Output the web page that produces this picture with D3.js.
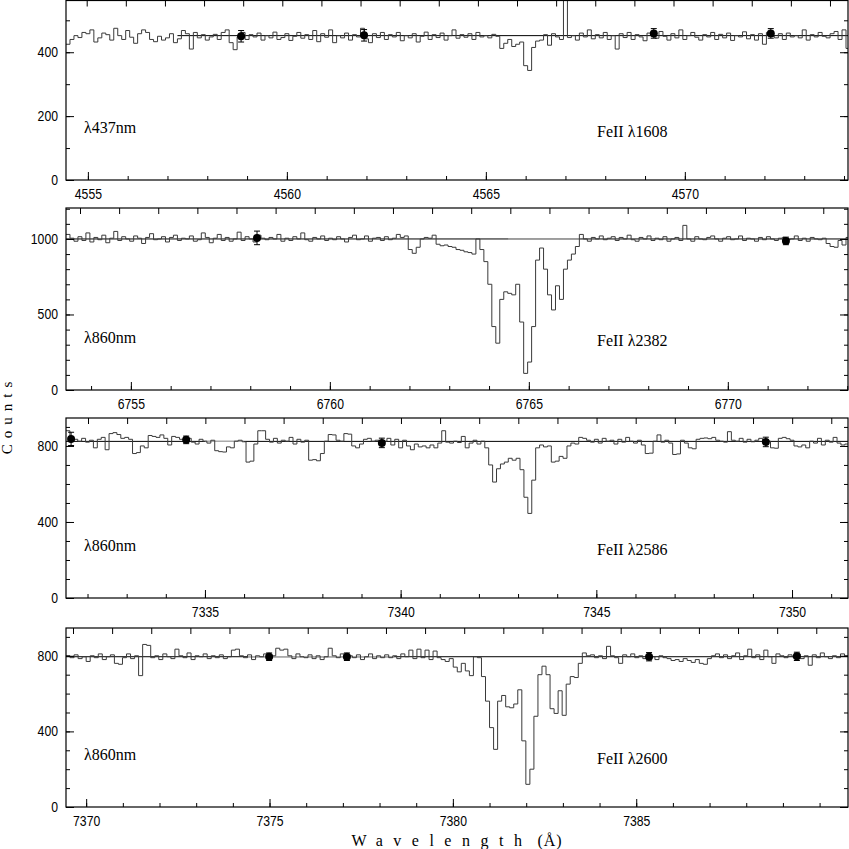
<!DOCTYPE html>
<html><head><meta charset="utf-8">
<script src="https://cdn.jsdelivr.net/npm/d3@7"></script>
<style>body{margin:0;background:#fff}svg{display:block}</style>
</head><body><svg id="c" width="849" height="849"></svg>
<script>
// ---------------- DATA ----------------
// Panel 1: FeII 1608 (437nm arm)
const p1Start = 4554.45, p1Step = 0.1;
const p1Counts = [
425,440,452,446,462,458,470,432,445,460,
455,438,475,452,440,468,447,428,458,470,
462,440,433,450,438,445,458,430,442,468,
458,410,462,445,455,438,448,456,440,462,
470,430,408,448,462,440,455,448,460,438,
452,445,463,440,446,458,437,450,462,444,
455,440,468,433,458,447,470,430,452,445,
460,438,455,448,475,442,430,458,446,462,
440,455,448,462,436,452,445,458,432,450,
463,440,455,446,460,438,452,470,444,455,
447,458,440,462,448,452,445,456,450,412,
428,440,418,425,432,358,343,415,435,438,
455,422,458,448,440,720,446,452,438,460,
448,470,442,455,445,462,440,452,410,458,
446,462,440,455,448,436,460,452,444,465,
450,438,458,445,470,440,452,462,447,438,
455,448,462,440,456,445,460,437,452,448,
464,442,455,438,458,425,462,450,445,458,
440,460,448,452,445,470,438,455,448,462,
450,445,458,465,440,470,412];
const p1XDomain = [4554.45, 4574.10];
const p1YDomain = [0, 562];
const p1XTicks = [4555, 4560, 4565, 4570];
const p1YTicks = [0, 200, 400];
const p1ContRange = [4557.25, 4574.10];
const p1ContLevel = 452;
const p1GrayCont = [];
const p1DotX = [4558.85, 4561.94, 4569.22, 4572.16];
const p1DotY = [450, 453, 459, 459];
const p1DotErr = [18, 18, 15, 15];

// Panel 2: FeII 2382 (860nm arm)
const p2Start = 6753.37, p2Step = 0.1;
const p2Counts = [
1030,1005,985,1015,990,1040,980,1010,995,1025,
975,1005,1050,990,1015,1000,985,1020,1005,970,
1010,1035,995,1000,1015,980,1010,1025,990,1005,
1000,1020,985,995,1040,1010,975,1005,1030,990,
1010,985,1000,1045,990,1015,1000,980,1025,1005,
995,1010,1000,1030,985,1005,990,1015,1000,1040,
995,985,1010,1000,1020,990,1005,995,1015,1000,
980,1010,1025,995,1000,1020,985,1005,1010,990,
1015,995,1005,1030,1010,1020,930,905,945,1000,
1010,1005,1025,965,955,960,950,945,930,925,
915,910,900,1000,930,850,700,420,310,600,
650,640,630,700,450,110,185,420,860,940,
800,630,530,690,600,800,860,900,950,1030,
1000,985,1010,1000,1020,995,1005,1015,990,1010,
1000,1025,995,985,1010,1000,1020,990,1005,995,
1015,985,1000,1010,990,1090,1000,985,1015,1000,
995,1010,1020,1000,985,1005,1015,995,1000,1020,
990,1005,1000,985,1010,995,1015,1000,990,1005,
1010,995,1000,1020,990,1005,985,1010,1000,995,
1005,970,950,945,990,960,1010];
const p2XDomain = [6753.37, 6773.02];
const p2YDomain = [0, 1205];
const p2XTicks = [6755, 6760, 6765, 6770];
const p2YTicks = [0, 500, 1000];
const p2ContRange = [6753.37, 6773.02];
const p2ContLevel = 1000;
const p2GrayCont = [6764.48, 6766.29];
const p2DotX = [6758.17, 6771.46];
const p2DotY = [1007, 987];
const p2DotErr = [45, 25];

// Panel 3: FeII 2586 (860nm arm)
const p3Start = 7331.45, p3Step = 0.1;
const p3Counts = [
880,830,835,825,840,820,830,790,835,845,
780,865,870,860,840,845,835,760,765,800,
790,855,850,845,858,840,805,850,845,835,
830,840,820,810,835,825,815,830,775,770,
768,795,790,825,830,822,715,720,810,880,
880,835,820,840,815,830,825,845,810,835,
820,830,725,728,722,760,825,860,858,830,
825,865,862,800,790,810,835,840,825,830,
820,825,840,805,835,790,830,800,780,810,
795,800,790,805,790,815,880,820,815,825,
818,850,790,815,830,810,825,790,700,610,
680,705,715,735,725,735,675,530,445,620,
790,805,795,800,715,720,745,735,800,815,
810,845,840,830,820,835,815,840,825,830,
810,835,820,845,825,815,830,805,760,762,
825,858,820,830,815,755,758,830,815,790,
785,835,840,842,838,845,830,825,820,875,
830,825,840,820,835,822,830,840,820,825,
790,788,840,845,838,830,800,795,805,790,
825,815,840,805,830,820,845,815,805,810];
const p3XDomain = [7331.45, 7351.43];
const p3YDomain = [0, 947];
const p3XTicks = [7335, 7340, 7345, 7350];
const p3YTicks = [0, 400, 800];
const p3ContRange = [7331.45, 7351.43];
const p3ContLevel = 824;
const p3GrayCont = [7335.0, 7336.0];
const p3DotX = [7331.58, 7334.52, 7339.52, 7349.33];
const p3DotY = [837, 832, 816, 821];
const p3DotErr = [35, 20, 25, 25];

// Panel 4: FeII 2600 (860nm arm)
const p4Start = 7369.45, p4Step = 0.11;
const p4Counts = [
800,790,805,785,795,770,800,790,810,780,
795,805,760,755,790,810,785,800,695,860,
855,790,800,780,810,795,785,835,800,790,
815,780,800,795,810,785,800,790,805,785,
795,830,835,800,790,805,780,800,795,810,
785,800,840,830,835,800,785,810,795,790,
805,785,800,780,795,840,800,790,810,785,
800,790,805,780,795,810,785,800,790,805,
790,800,785,810,795,830,785,835,790,830,
780,825,790,780,770,785,740,715,760,720,
695,795,790,690,560,420,305,560,590,530,
525,545,620,350,120,200,480,700,745,700,
520,495,615,485,650,690,685,760,815,800,
805,790,800,785,850,800,790,760,805,795,
810,790,800,785,805,795,780,800,790,785,
775,780,770,785,775,765,780,760,755,785,
800,810,790,805,785,800,815,780,800,835,
790,805,780,830,795,760,810,800,790,805,
795,810,785,800,750,805,790,815,795,785,
800,790,810,800];
const p4XDomain = [7369.45, 7390.775];
const p4YDomain = [0, 947];
const p4XTicks = [7370, 7375, 7380, 7385];
const p4YTicks = [0, 400, 800];
const p4ContRange = [7369.45, 7390.775];
const p4ContLevel = 795;
const p4GrayCont = [7374.4, 7378.4];
const p4DotX = [7374.99, 7377.11, 7385.35, 7389.38];
const p4DotY = [795, 795, 795, 797];
const p4DotErr = [20, 20, 22, 22];

const armLabels = ["λ437nm", "λ860nm", "λ860nm", "λ860nm"];
const lineLabels = ["FeII λ1608", "FeII λ2382", "FeII λ2586", "FeII λ2600"];

// ---------------- LAYOUT ----------------
const L = 66, R = 848;
const layout = [
  {top: 0.5, bottom: 180, yMinor: 100, topPhase: 20.7},
  {top: 208, bottom: 390, yMinor: 100, topPhase: 14},
  {top: 418, bottom: 598, yMinor: 100, topPhase: 22},
  {top: 628, bottom: 807, yMinor: 100, topPhase: 7}
];
const topTickSpacing = 39.12;

const panels = [
  {start:p1Start, step:p1Step, counts:p1Counts, xd:p1XDomain, yd:p1YDomain, xt:p1XTicks, yt:p1YTicks, cr:p1ContRange, cl:p1ContLevel, gc:p1GrayCont, dx:p1DotX, dy:p1DotY, de:p1DotErr},
  {start:p2Start, step:p2Step, counts:p2Counts, xd:p2XDomain, yd:p2YDomain, xt:p2XTicks, yt:p2YTicks, cr:p2ContRange, cl:p2ContLevel, gc:p2GrayCont, dx:p2DotX, dy:p2DotY, de:p2DotErr},
  {start:p3Start, step:p3Step, counts:p3Counts, xd:p3XDomain, yd:p3YDomain, xt:p3XTicks, yt:p3YTicks, cr:p3ContRange, cl:p3ContLevel, gc:p3GrayCont, dx:p3DotX, dy:p3DotY, de:p3DotErr},
  {start:p4Start, step:p4Step, counts:p4Counts, xd:p4XDomain, yd:p4YDomain, xt:p4XTicks, yt:p4YTicks, cr:p4ContRange, cl:p4ContLevel, gc:p4GrayCont, dx:p4DotX, dy:p4DotY, de:p4DotErr}
];

const svg = d3.select("#c");
const tickFont = "'Liberation Sans','DejaVu Sans',sans-serif";
const serif = "'Liberation Serif','DejaVu Serif',serif";
const defs = svg.append("defs");
const narrow = sel => sel.each(function() {
  const t = d3.select(this), s = t.text();
  t.attr("textLength", s.length * 6.8).attr("lengthAdjust", "spacingAndGlyphs");
});

panels.forEach((p, k) => {
  const lay = layout[k];
  const x = d3.scaleLinear().domain(p.xd).range([L, R]);
  const y = d3.scaleLinear().domain(p.yd).range([lay.bottom, lay.top]);
  const g = svg.append("g");

  defs.append("clipPath").attr("id", "clip" + k)
    .append("rect").attr("x", L).attr("y", lay.top).attr("width", R - L).attr("height", lay.bottom - lay.top);

  // continuum
  g.append("line").attr("x1", x(p.cr[0])).attr("x2", x(p.cr[1]))
    .attr("y1", y(p.cl)).attr("y2", y(p.cl))
    .attr("stroke", "#000").attr("stroke-width", 1).attr("clip-path", `url(#clip${k})`);
  if (p.gc.length) {
    g.append("line").attr("x1", x(p.gc[0])).attr("x2", x(p.gc[1]))
      .attr("y1", y(p.cl)).attr("y2", y(p.cl))
      .attr("stroke", "#aaa").attr("stroke-width", 1.4);
  }

  // spectrum histogram
  const pts = p.counts.map((v, i) => [p.start + i * p.step, v]);
  pts.push([p.start + p.counts.length * p.step, p.counts[p.counts.length - 1]]);
  const line = d3.line().x(d => x(d[0])).y(d => y(d[1])).curve(d3.curveStepAfter);
  g.append("path").attr("d", line(pts)).attr("fill", "none")
    .attr("stroke", "#3a3a3a").attr("stroke-width", 1).attr("clip-path", `url(#clip${k})`);

  // dots with error bars
  p.dx.forEach((wx, i) => {
    const cx = x(wx), cy = y(p.dy[i]);
    const y1 = y(p.dy[i] - p.de[i]), y2 = y(p.dy[i] + p.de[i]);
    g.append("line").attr("x1", cx).attr("x2", cx).attr("y1", y1).attr("y2", y2).attr("stroke", "#000").attr("stroke-width", 1);
    g.append("line").attr("x1", cx - 3).attr("x2", cx + 3).attr("y1", y1).attr("y2", y1).attr("stroke", "#000");
    g.append("line").attr("x1", cx - 3).attr("x2", cx + 3).attr("y1", y2).attr("y2", y2).attr("stroke", "#000");
    g.append("circle").attr("cx", cx).attr("cy", cy).attr("r", 4).attr("fill", "#000");
  });

  // axes
  const minorX = d3.range(Math.ceil(p.xd[0]), p.xd[1], 1);
  const minorY = d3.range(0, p.yd[1], lay.yMinor);
  const styleAxis = a => { a.select(".domain").remove(); a.selectAll("line").attr("stroke", "#000"); };

  const ax = g.append("g").attr("transform", `translate(0,${lay.bottom})`)
    .call(d3.axisBottom(x).tickValues(p.xt).tickSize(-8).tickPadding(9).tickFormat(d3.format("d")));
  styleAxis(ax);
  ax.selectAll("text").attr("font-family", tickFont).attr("font-size", 14).attr("fill", "#000").call(narrow);
  const axm = g.append("g").attr("transform", `translate(0,${lay.bottom})`)
    .call(d3.axisBottom(x).tickValues(minorX).tickSize(-4).tickFormat(""));
  styleAxis(axm);

  const ay = g.append("g").attr("transform", `translate(${L},0)`)
    .call(d3.axisLeft(y).tickValues(p.yt).tickSize(-8).tickPadding(8).tickFormat(d3.format("d")));
  styleAxis(ay);
  ay.selectAll("text").attr("font-family", tickFont).attr("font-size", 14).attr("fill", "#000").call(narrow);
  const aym = g.append("g").attr("transform", `translate(${L},0)`)
    .call(d3.axisLeft(y).tickValues(minorY).tickSize(-4).tickFormat(""));
  styleAxis(aym);

  const ar = g.append("g").attr("transform", `translate(${R},0)`)
    .call(d3.axisRight(y).tickValues(p.yt).tickSize(-8).tickFormat(""));
  styleAxis(ar);
  const arm = g.append("g").attr("transform", `translate(${R},0)`)
    .call(d3.axisRight(y).tickValues(minorY).tickSize(-4).tickFormat(""));
  styleAxis(arm);

  const top = d3.scaleLinear()
    .domain([-lay.topPhase / topTickSpacing, (R - L - lay.topPhase) / topTickSpacing]).range([L, R]);
  const topTicks = d3.range(0, top.domain()[1], 1);
  const at = g.append("g").attr("transform", `translate(0,${lay.top})`)
    .call(d3.axisTop(top).tickValues(topTicks).tickSize(-6).tickFormat(""));
  styleAxis(at);

  // frame
  g.append("rect").attr("x", L).attr("y", lay.top).attr("width", R - L).attr("height", lay.bottom - lay.top)
    .attr("fill", "none").attr("stroke", "#000").attr("stroke-width", 1.2);

  // labels
  g.append("text").attr("x", 84).attr("y", lay.top + (lay.bottom - lay.top) * 0.74)
    .attr("font-family", serif).attr("font-size", 16).text(armLabels[k]);
  g.append("text").attr("x", 597).attr("y", lay.top + (lay.bottom - lay.top) * 0.76)
    .attr("font-family", serif).attr("font-size", 16).text(lineLabels[k]);
});

// axis titles
svg.append("text").attr("transform", "translate(12,415) rotate(-90)")
  .attr("text-anchor", "middle").attr("font-family", serif).attr("font-size", 15)
  .attr("letter-spacing", "6px").text("Counts");
const xt = svg.append("text").attr("x", 457).attr("y", 846).attr("text-anchor", "middle")
  .attr("font-family", serif).attr("font-size", 16);
xt.append("tspan").attr("letter-spacing", "10.5px").text("Wavelength");
xt.append("tspan").attr("letter-spacing", "1px").text(" (Å)");
</script></body></html>
